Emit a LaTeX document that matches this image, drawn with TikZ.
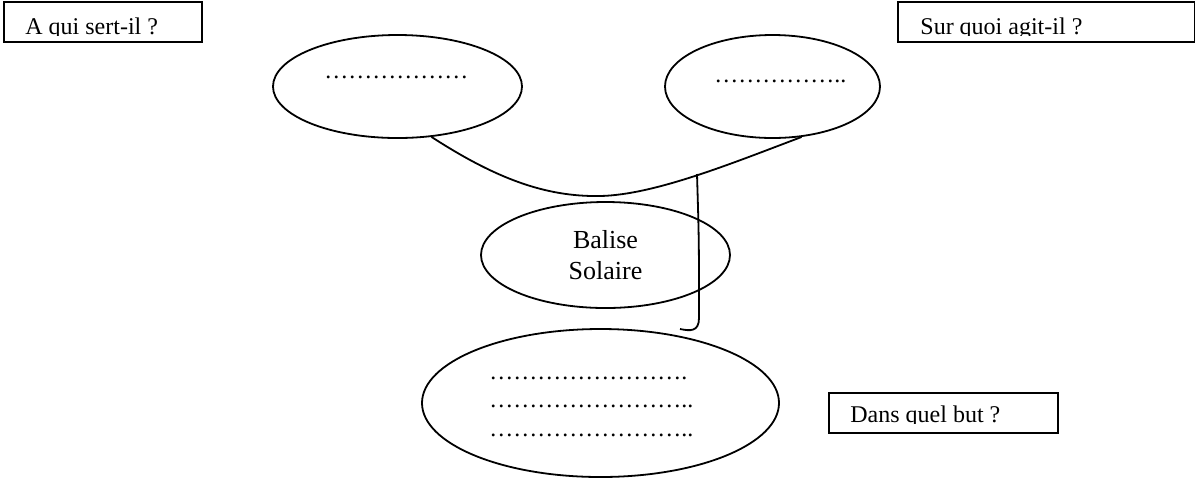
\documentclass[tikz,border=0pt]{standalone}
\usepackage{fontspec}
\setmainfont{Liberation Serif}
\usetikzlibrary{shapes.geometric}

\newcommand\pp{\char"2026\relax}

\tikzset{
  bulle/.style={draw, ellipse, line width=0.9pt, inner sep=0pt},
  qbox/.style={draw, rectangle, line width=0.9pt, anchor=north west, inner sep=0pt},
  qtext/.style={anchor=base west, inner sep=0pt, font=\fontsize{12}{14}\selectfont},
  pointilles/.style={anchor=base west, inner sep=0pt, font=\fontsize{12}{14}\selectfont},
  lien/.style={line width=0.9pt}
}

\begin{document}
\begin{tikzpicture}[x=0.5pt,y=-0.5pt]
\useasboundingbox (0,0) rectangle (1195,479);

% question boxes
\node[qbox, minimum width=99pt, minimum height=20pt] (qui) at (3,1) {};
\node[qbox, minimum width=148.5pt, minimum height=20pt] (quoi) at (897,1) {};
\node[qbox, minimum width=114.5pt, minimum height=20pt] (but) at (828,392) {};

\begin{scope}
\clip (3,1) rectangle (201,35);
\node[qtext] (quitxt) at (25,34.5) {A qui sert-il ?};
\end{scope}
\begin{scope}
\clip (897,1) rectangle (1194,35);
\node[qtext] (quoitxt) at (920,34.5) {Sur quoi agit-il ?};
\end{scope}
\begin{scope}
\clip (828,392) rectangle (1057,423);
\node[qtext] (buttxt) at (850,422.5) {Dans quel but ?};
\end{scope}

% ellipses
\node[bulle, minimum width=124.5pt, minimum height=51.5pt] (gauche) at (397.5,86.5) {};
\node[bulle, minimum width=107.5pt, minimum height=51.5pt] (droite) at (772.5,86.5) {};
\node[bulle, minimum width=124.5pt, minimum height=53pt, align=center,
      font=\fontsize{13}{15.5}\selectfont] (balise) at (605.5,255) {Balise\\Solaire};
\node[bulle, minimum width=178.5pt, minimum height=74pt] (bas) at (600.5,403) {};

% dotted lines
\node[pointilles] (dotsg) at (324,78) {\pp\pp\pp\pp\pp\pp};
\node[pointilles] (dotsd) at (714,82) {\pp\pp\pp\pp\pp..};
\node[pointilles] (dots1) at (489,379) {\pp\pp\pp\pp\pp\pp\pp\pp.};
\node[pointilles] (dots2) at (489,407) {\pp\pp\pp\pp\pp\pp\pp\pp..};
\node[pointilles] (dots3) at (489,436) {\pp\pp\pp\pp\pp\pp\pp\pp..};

% connectors
\coordinate (creux) at (600,196);
\coordinate (pied) at (697,174);
\coordinate (crochet) at (680,329);
\draw[lien] (gauche.-56) .. controls (495,178) and (545,197) .. (creux)
  .. controls (655,195) and (735,162) .. (droite.-60);
\draw[lien] (pied) .. controls (699,240) .. (699,318)
  .. controls (699,332) and (690,331) .. (crochet);

\end{tikzpicture}
\end{document}
